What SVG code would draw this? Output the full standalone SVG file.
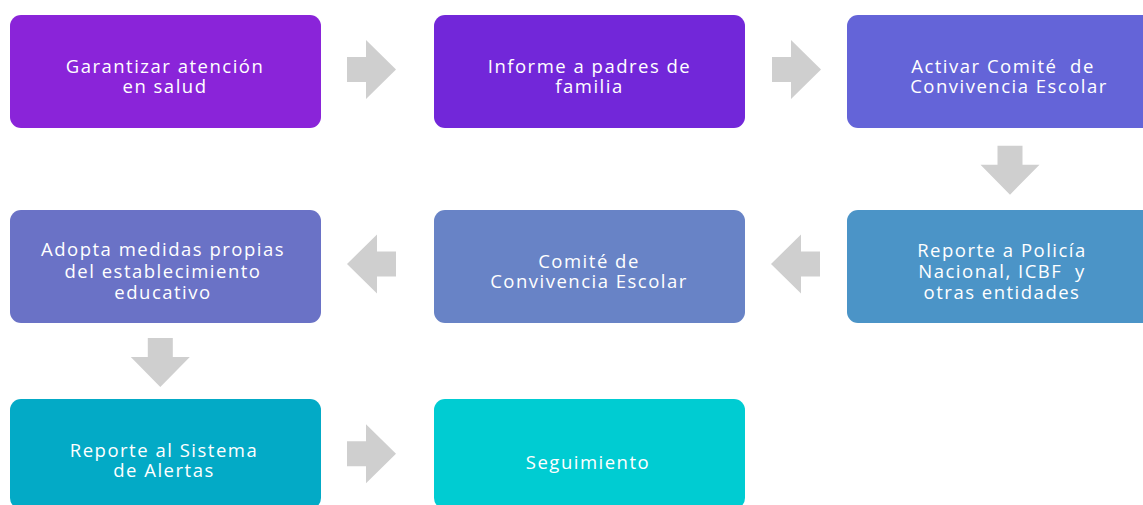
<svg xmlns="http://www.w3.org/2000/svg" xmlns:xlink="http://www.w3.org/1999/xlink" width="1143" height="505" viewBox="0 0 1143 505">
<style>
.box{stroke:none}
.lbl{font-family:"Open Sans","Noto Sans","DejaVu Sans",sans-serif;font-size:18.5px;letter-spacing:1.5px;fill:#ffffff;text-anchor:middle}
.arr{fill:#cfcfcf}
</style>
<defs>
<path id="arrow" d="M0,-12.5 H19 V-29.5 L49,0 L19,29.5 V12.5 H0 Z"/>
</defs>
<rect width="1143" height="505" fill="#ffffff"/>
<g id="connectors" class="arr">
<use xlink:href="#arrow" href="#arrow" transform="translate(347,69.5)"/>
<use xlink:href="#arrow" href="#arrow" transform="translate(772,69.5)"/>
<use xlink:href="#arrow" href="#arrow" transform="translate(1010,145.7) rotate(90)"/>
<use xlink:href="#arrow" href="#arrow" transform="translate(820,264) rotate(180)"/>
<use xlink:href="#arrow" href="#arrow" transform="translate(396,264) rotate(180)"/>
<use xlink:href="#arrow" href="#arrow" transform="translate(160.3,338) rotate(90)"/>
<use xlink:href="#arrow" href="#arrow" transform="translate(347,453.7)"/>
</g>
<g id="n1">
<rect class="box" x="10" y="15" width="311" height="113" rx="11" fill="#8a24d9"/>
<text class="lbl" x="165" y="73.3">Garantizar atención</text>
<text class="lbl" x="165" y="93.3">en salud</text>
</g>
<g id="n2">
<rect class="box" x="434" y="15" width="311" height="113" rx="11" fill="#7227d9"/>
<text class="lbl" x="589.5" y="73.3">Informe a padres de</text>
<text class="lbl" x="589.5" y="93.3">familia</text>
</g>
<g id="n3">
<rect class="box" x="847" y="15" width="311" height="113" rx="11" fill="#6464d8"/>
<text class="lbl" x="1003" y="73.3" xml:space="preserve">Activar Comité  de</text>
<text class="lbl" x="1009" y="93.3">Convivencia Escolar</text>
</g>
<g id="n4">
<rect class="box" x="847" y="210" width="311" height="113" rx="11" fill="#4b94c7"/>
<text class="lbl" x="1002" y="256.7">Reporte a Policía</text>
<text class="lbl" x="1002" y="278" xml:space="preserve">Nacional, ICBF  y</text>
<text class="lbl" x="1002" y="298.5">otras entidades</text>
</g>
<g id="n5">
<rect class="box" x="434" y="210" width="311" height="113" rx="11" fill="#6883c6"/>
<text class="lbl" x="589" y="267.7">Comité de</text>
<text class="lbl" x="589" y="288.3">Convivencia Escolar</text>
</g>
<g id="n6">
<rect class="box" x="10" y="210" width="311" height="113" rx="11" fill="#6a72c6"/>
<text class="lbl" x="163" y="256.3">Adopta medidas propias</text>
<text class="lbl" x="163" y="277.5">del establecimiento</text>
<text class="lbl" x="163" y="298.5">educativo</text>
</g>
<g id="n7">
<rect class="box" x="10" y="399" width="311" height="110" rx="11" fill="#03aac6"/>
<text class="lbl" x="164" y="456.7">Reporte al Sistema</text>
<text class="lbl" x="164" y="477.3">de Alertas</text>
</g>
<g id="n8">
<rect class="box" x="434" y="399" width="311" height="110" rx="11" fill="#00ccd2"/>
<text class="lbl" x="588" y="469.3">Seguimiento</text>
</g>
</svg>
